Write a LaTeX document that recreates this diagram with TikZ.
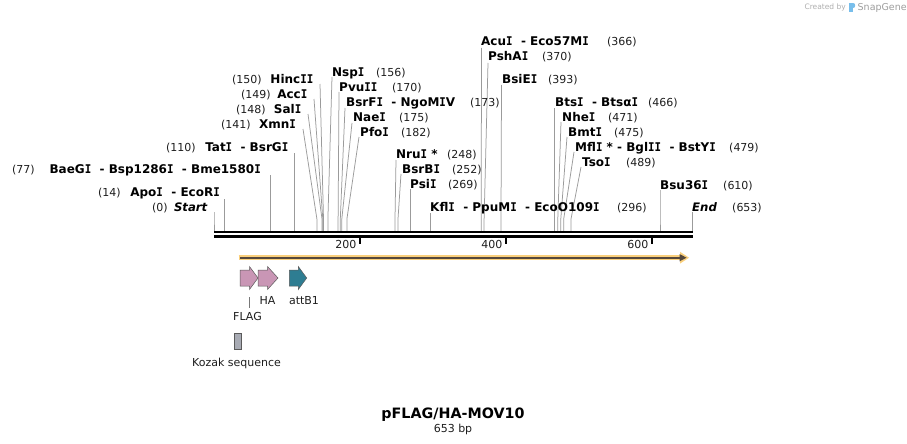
\documentclass[tikz,border=0pt]{standalone}
\usepackage{graphicx}
\usepackage{fontspec}
\setmainfont{DejaVu Sans}[ItalicFont={DejaVu Sans Oblique},BoldFont={DejaVu Sans Bold},BoldItalicFont={DejaVu Sans Bold Oblique}]
\newfontface\monob{DejaVu Sans Mono Bold}
\newcommand\sI{\scalebox{0.9}[1]{\monob I}}
\definecolor{linegray}{RGB}{155,155,155}
\definecolor{orfor}{RGB}{250,208,125}
\definecolor{orfdk}{RGB}{85,72,60}
\definecolor{pinkf}{RGB}{201,150,181}
\definecolor{tealf}{RGB}{46,125,146}
\definecolor{kozakc}{RGB}{168,171,180}
\definecolor{txt}{RGB}{30,30,30}
\definecolor{logogray}{RGB}{175,175,175}
\definecolor{logoblue}{RGB}{120,190,235}
\newcommand\cutln[4]{%
  \coordinate (#1t) at (#2,#3);
  \coordinate (#1b) at (#4,219);
  \coordinate (#1s) at (#4,231);
  \draw[cut] (#1t) -- (#1b) -- (#1s);}
\begin{document}
\begin{tikzpicture}[x=1pt,y=-1pt,
  nm/.style={font=\bfseries\fontsize{12}{13}\selectfont, inner sep=0pt, anchor=base west},
  nml/.style={nm, anchor=base east},
  nmi/.style={nm, font=\bfseries\itshape\fontsize{11.7}{13}\selectfont},
  num/.style={font=\fontsize{11}{13}\selectfont, inner sep=0pt, anchor=base west, text=txt},
  cut/.style={draw=linegray, line width=0.75pt},
  featlab/.style={font=\fontsize{11}{13}\selectfont, inner sep=0pt, anchor=base, text=txt},
  featbox/.style={draw={rgb,255:red,90;green,90;blue,90}, line width=0.5pt}]
\useasboundingbox (0,0) rectangle (907,444);
\fill[white] (0,0) rectangle (907,444);

% ---- logo
\node[font=\fontsize{7.5}{9}\selectfont, text=logogray, inner sep=0, anchor=base east] (cby) at (846,10) {Created by};
\fill[logoblue] (849,3) rectangle (852.5,12);
\fill[logoblue] (852.5,3.5) .. controls (856,3.5) and (856,8.5) .. (852.5,8.5) -- cycle;
\node[font=\fontsize{9.5}{11}\selectfont, text=logogray!90!black, inner sep=0, anchor=base west] (sg) at (857.5,11) {SnapGene};

% ---- cut lines
\cutln{c0}{214}{212}{214}
\cutln{c14}{224.2}{199}{224.2}
\cutln{c77}{270.2}{175}{270.2}
\cutln{c110}{294.3}{153}{294.3}
\cutln{c141}{303}{129}{316.9}
\cutln{c148}{308}{114}{322.0}
\cutln{c149}{314}{99}{322.8}
\cutln{c150}{320}{84}{323.5}
\cutln{c156}{332}{77}{327.9}
\cutln{c170}{339}{92}{338.1}
\cutln{c173}{345}{108}{340.3}
\cutln{c175}{352}{123}{341.8}
\cutln{c182}{359}{137}{346.9}
\cutln{c248}{396}{160}{395.0}
\cutln{c252}{401}{174}{398.0}
\cutln{c269}{410.4}{189}{410.4}
\cutln{c296}{430.1}{213}{430.1}
\cutln{c366}{481.5}{48}{481.2}
\cutln{c370}{488}{63}{484.1}
\cutln{c393}{501.5}{85}{501}
\cutln{c466}{554.2}{108}{554.2}
\cutln{c471}{561}{122}{557.8}
\cutln{c475}{567}{137}{560.8}
\cutln{c479}{574}{152}{563.7}
\cutln{c489}{581}{167}{571.0}
\cutln{c610}{660}{190}{660}
\cutln{c653}{692}{212}{692}

% ---- left labels
\node[num] (n0) at (152,211) {(0)};
\node[nmi, anchor=base east] (e0) at (207.5,211) {Start};
\node[num] (n14) at (98,196) {(14)};
\node[nml] (e14) at (220,196) {Apo\sI~~- EcoR\sI};
\node[num] (n77) at (12,173) {(77)};
\node[nml] (e77) at (261,173) {BaeG\sI~~- Bsp1286\sI~~- Bme1580\sI};
\node[num] (n110) at (166,151) {(110)};
\node[nml] (e110) at (288.5,151) {Tat\sI~~- BsrG\sI};
\node[num] (n141) at (221,128) {(141)};
\node[nml] (e141) at (296,128) {Xmn\sI};
\node[num] (n148) at (236,113) {(148)};
\node[nml] (e148) at (301.5,113) {Sal\sI};
\node[num] (n149) at (241,98) {(149)};
\node[nml] (e149) at (307.5,98) {Acc\sI};
\node[num] (n150) at (232,83) {(150)};
\node[nml] (e150) at (313.5,83) {Hinc\sI\sI};

% ---- right labels
\node[nm] (e156) at (332,76) {Nsp\sI};
\node[num] (n156) at (376,76) {(156)};
\node[nm] (e170) at (339,91) {Pvu\sI\sI};
\node[num] (n170) at (392,91) {(170)};
\node[nm] (e173) at (346,106) {BsrF\sI~~- NgoM\sI V};
\node[num] (n173) at (470,106) {(173)};
\node[nm] (e175) at (353,121) {Nae\sI};
\node[num] (n175) at (399,121) {(175)};
\node[nm] (e182) at (360,136) {Pfo\sI};
\node[num] (n182) at (401,136) {(182)};
\node[nm] (e248) at (396,158) {Nru\sI{} *};
\node[num] (n248) at (447,158) {(248)};
\node[nm] (e252) at (402,173) {BsrB\sI};
\node[num] (n252) at (452,173) {(252)};
\node[nm] (e269) at (410,188) {Psi\sI};
\node[num] (n269) at (448,188) {(269)};
\node[nm] (e296) at (430,211) {Kfl\sI~~- PpuM\sI~~- EcoO109\sI};
\node[num] (n296) at (617,211) {(296)};
\node[nm] (e366) at (481,46) {Acu\sI~~- Eco57M\sI};
\node[num] (n366) at (607,46) {(366)};
\node[nm] (e370) at (488,61) {PshA\sI};
\node[num] (n370) at (542,61) {(370)};
\node[nm] (e393) at (502,83) {BsiE\sI};
\node[num] (n393) at (548,83) {(393)};
\node[nm] (e466) at (555,106) {Bts\sI~~- Btsα\sI};
\node[num] (n466) at (648,106) {(466)};
\node[nm] (e471) at (562,121) {Nhe\sI};
\node[num] (n471) at (608,121) {(471)};
\node[nm] (e475) at (568,136) {Bmt\sI};
\node[num] (n475) at (614,136) {(475)};
\node[nm] (e479) at (575,151) {Mfl\sI{} *~- Bgl\sI\sI~~- BstY\sI};
\node[num] (n479) at (729,151) {(479)};
\node[nm] (e489) at (582,166) {Tso\sI};
\node[num] (n489) at (626,166) {(489)};
\node[nm] (e610) at (660,189) {Bsu36\sI};
\node[num] (n610) at (723,189) {(610)};
\node[nmi] (e653) at (692,211) {End};
\node[num] (n653) at (732,211) {(653)};

% ---- backbone
\coordinate (bbL) at (214,232);
\coordinate (bbR) at (692.5,232);
\draw[line width=2.5pt] (bbL) -- (bbR);
\draw[line width=2.5pt] ([yshift=-4.3pt]bbL) -- ([yshift=-4.3pt]bbR);
\foreach \x/\lab in {360/200,506/400,652/600}{
  \draw[line width=1.8pt] (\x,237.5) -- (\x,243.5);
  \node[font=\fontsize{11}{13}\selectfont, inner sep=0, anchor=base east, text=txt] (t\lab) at (\x-3.5,248.5) {\lab};
}

% ---- ORF arrow
\coordinate (orfL) at (238.5,257.7);
\coordinate (orfR) at (684,257.7);
\draw[orfor, line width=5.5pt] (orfL) -- (orfR);
\fill[orfor] (680,251.8) -- (689,257.7) -- (680,263.6) -- cycle;
\draw[orfdk, line width=2pt] (240,257.7) -- (681,257.7);
\fill[orfdk] (679.5,254) -- (686.5,257.7) -- (679.5,261.4) -- cycle;

% ---- features
\draw[featbox, fill=pinkf] (240,270) -- (249.5,270) -- (249.5,266.5) -- (258,278) -- (249.5,289.5) -- (249.5,286) -- (240,286) -- cycle;
\draw[featbox, fill=pinkf] (258,270) -- (267.5,270) -- (267.5,266.5) -- (278,278) -- (267.5,289.5) -- (267.5,286) -- (258,286) -- cycle;
\draw[featbox, fill=tealf] (289.3,270) -- (298.3,270) -- (298.3,266.5) -- (306.7,278) -- (298.3,289.5) -- (298.3,286) -- (289.3,286) -- cycle;
\node[featlab] (lHA) at (267.5,304) {HA};
\node[featlab] (lattB) at (304,304) {attB1};
\coordinate (flagT) at (249,297);
\coordinate (flagB) at (249,308);
\draw[draw={rgb,255:red,120;green,120;blue,120}, line width=0.6pt] (flagT) -- (flagB);
\node[featlab] (lFLAG) at (247.5,320) {FLAG};
\draw[featbox, fill=kozakc] (234.5,333.5) rectangle (241.5,349);
\node[featlab] (lKoz) at (236.5,366) {Kozak sequence};

% ---- title
\node[font=\bfseries\fontsize{14.3}{16}\selectfont, inner sep=0, anchor=base] (title) at (453,418) {pFLAG/HA-MOV10};
\node[font=\fontsize{11}{13}\selectfont, inner sep=0, anchor=base, text=txt] (len) at (453,432) {653 bp};
\end{tikzpicture}
\end{document}
